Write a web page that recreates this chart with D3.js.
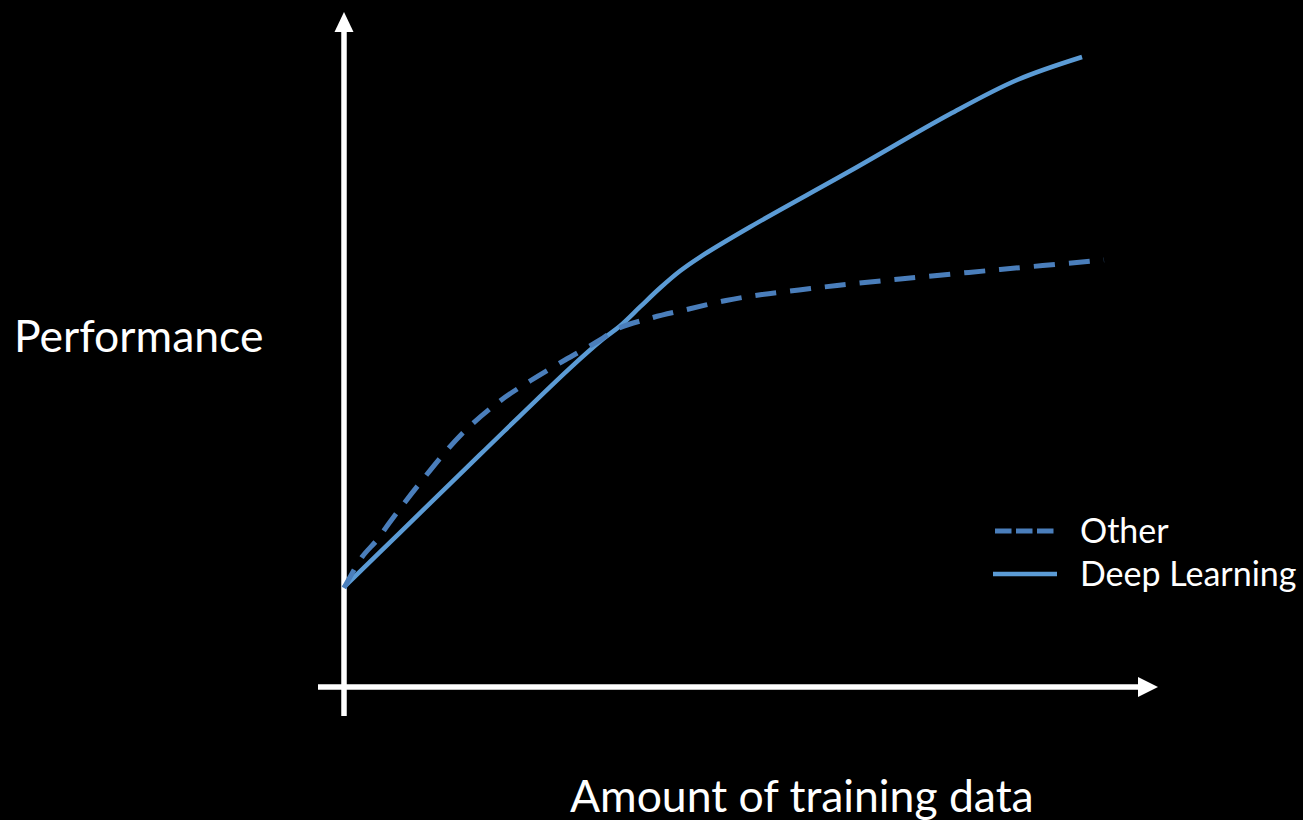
<!DOCTYPE html>
<html><head><meta charset="utf-8">
<script src="https://cdn.jsdelivr.net/npm/d3@7"></script>
<style>html,body{margin:0;padding:0;background:#000;}svg{display:block;}</style>
</head><body>
<script>
// Data (x: amount of training data, y: performance), arbitrary units 0-100
const otherX = [0, 2.37, 4.34, 6.05, 10.0, 15.53, 20.53, 24.47, 29.08, 33.68, 35.92, 40.66, 45.39, 50.26, 55.0, 59.87, 64.87, 73.16, 86.32, 100];
const otherY = [15.71, 20.63, 23.33, 26.19, 32.38, 40.2, 45.40, 48.57, 51.90, 55.08, 56.83, 58.65, 60.0, 61.35, 62.30, 63.02, 63.73, 64.76, 66.27, 67.78];
const dlX = [0, 7.37, 17.89, 29.74, 34.08, 36.32, 38.95, 41.58, 44.21, 46.84, 53.42, 66.58, 79.74, 88.55, 97.11];
const dlY = [15.87, 24.52, 36.87, 50.63, 55.24, 57.30, 60.32, 63.33, 66.03, 68.25, 73.02, 81.90, 90.95, 96.35, 100];
const legendLabels = ["Other", "Deep Learning"];

const W = 1303, H = 820;
const svg = d3.select("body").append("svg").attr("width", W).attr("height", H);
svg.append("rect").attr("width", W).attr("height", H).attr("fill", "#000");

const x = d3.scaleLinear().domain([0, 100]).range([344, 1104]);
const y = d3.scaleLinear().domain([0, 100]).range([687, 57]);

const font = "Lato, 'Open Sans', sans-serif";

// Axes
svg.append("line").attr("x1", 344).attr("x2", 344).attr("y1", 716).attr("y2", 28)
  .attr("stroke", "#fff").attr("stroke-width", 5.5);
svg.append("path").attr("d", "M334.5,32 L344,12 L353.5,32 Z").attr("fill", "#fff");
svg.append("line").attr("x1", 318).attr("x2", 1142).attr("y1", 687).attr("y2", 687)
  .attr("stroke", "#fff").attr("stroke-width", 5.5);
svg.append("path").attr("d", "M1138,677 L1158,687 L1138,697 Z").attr("fill", "#fff");

const line = d3.line().x(d => x(d[0])).y(d => y(d[1])).curve(d3.curveCatmullRom.alpha(0.5));

svg.append("path").datum(dlX.map((v, i) => [v, dlY[i]]))
  .attr("d", line).attr("fill", "none").attr("stroke", "#5b9bd5").attr("stroke-width", 4.5);
svg.append("path").datum(otherX.map((v, i) => [v, otherY[i]]))
  .attr("d", line).attr("fill", "none").attr("stroke", "#4a7ebb").attr("stroke-width", 5)
  .attr("stroke-dasharray", "21,14");

// Labels
svg.append("text").attr("x", 14).attr("y", 352).attr("fill", "#fff")
  .style("font-family", font).style("font-size", "44.5px").text("Performance");
svg.append("text").attr("x", 570).attr("y", 812).attr("fill", "#fff")
  .style("font-family", font).style("font-size", "44.5px").text("Amount of training data");

// Legend
const lg = svg.append("g");
lg.append("line").attr("x1", 995).attr("x2", 1055).attr("y1", 531).attr("y2", 531)
  .attr("stroke", "#4a7ebb").attr("stroke-width", 5).attr("stroke-dasharray", "16.5,4.5");
lg.append("line").attr("x1", 993).attr("x2", 1057).attr("y1", 574).attr("y2", 574)
  .attr("stroke", "#5b9bd5").attr("stroke-width", 4.5);
lg.selectAll("text.leg").data(legendLabels).enter().append("text").attr("class", "leg")
  .attr("x", 1080).attr("y", (d, i) => 543 + i * 43).attr("fill", "#fff")
  .style("font-family", font).style("font-size", "34px").text(d => d);
</script>
</body></html>
